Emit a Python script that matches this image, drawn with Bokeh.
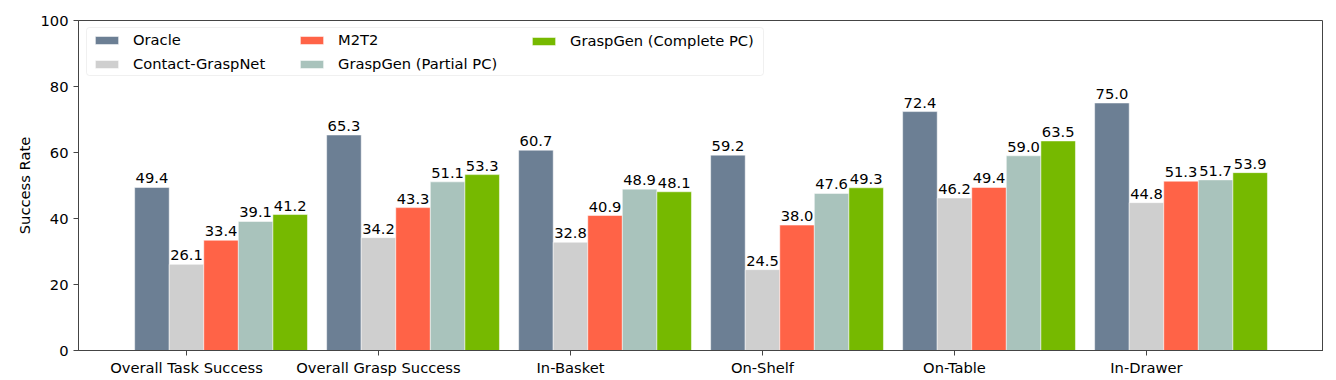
from bokeh.plotting import figure
from bokeh.models import (Range1d, FixedTicker, Legend, LegendItem, ColumnDataSource,
                          LabelSet, BoxAnnotation)
from bokeh.core.properties import value
from bokeh.embed import file_html
from bokeh.resources import INLINE

categories = ["Overall Task Success", "Overall Grasp Success", "In-Basket", "On-Shelf", "On-Table", "In-Drawer"]
methods = ["Oracle", "Contact-GraspNet", "M2T2", "GraspGen (Partial PC)", "GraspGen (Complete PC)"]
oracle = [49.4, 65.3, 60.7, 59.2, 72.4, 75.0]
contact_graspnet = [26.1, 34.2, 32.8, 24.5, 46.2, 44.8]
m2t2 = [33.4, 43.3, 40.9, 38.0, 49.4, 51.3]
graspgen_partial = [39.1, 51.1, 48.9, 47.6, 59.0, 51.7]
graspgen_complete = [41.2, 53.3, 48.1, 49.3, 63.5, 53.9]
y_ticks = [0, 20, 40, 60, 80, 100]

series = [oracle, contact_graspnet, m2t2, graspgen_partial, graspgen_complete]
colors = ["#6c7f94", "#cfcfcf", "#ff6347", "#a9c3bc", "#76b900"]
FONT = "DejaVu Sans"
FS = "14.7px"
bar_w = 0.18

p = figure(frame_width=1245, frame_height=330, output_backend="svg", toolbar_location=None,
           x_range=Range1d(-0.5625, 5.922), y_range=Range1d(0, 100),
           min_border_left=78, min_border_top=20, min_border_right=0, min_border_bottom=0)

renderers = []
for j, (vals, name, col) in enumerate(zip(series, methods, colors)):
    xs = [i + (j - 1) * bar_w for i in range(len(categories))]
    src = ColumnDataSource(dict(x=xs, top=vals, lab=[f"{v:.1f}" for v in vals]))
    r = p.vbar(x="x", top="top", width=bar_w, bottom=0, source=src,
               fill_color=col, line_color="white", line_width=0.5)
    renderers.append(r)
    p.add_layout(LabelSet(x="x", y="top", text="lab", source=src, text_align="center",
                          text_baseline="bottom", y_offset=4, text_font=value(FONT),
                          text_font_size=FS, text_color="black"))

# legend frame (screen units relative to the plot frame)
p.add_layout(BoxAnnotation(left=8, right=685, top=323, bottom=275,
                           left_units="screen", right_units="screen",
                           top_units="screen", bottom_units="screen",
                           fill_color="white", fill_alpha=0.8,
                           line_color="#cccccc", line_width=1, border_radius=3))

columns = [[0, 1], [2, 3], [4]]
col_x = [14, 219, 451]
for cols, cx in zip(columns, col_x):
    its = [LegendItem(label=methods[k], renderers=[renderers[k]]) for k in cols]
    vy = 278 if len(cols) == 2 else 301
    lg = Legend(items=its, location=(cx, vy), orientation="vertical",
                glyph_width=29, glyph_height=10, label_text_font=FONT, label_text_font_size=FS,
                label_text_color="black",
                label_height=15, spacing=7, padding=0, margin=0,
                border_line_color=None, background_fill_alpha=0,
                label_standoff=12, label_text_line_height=1.0)
    p.add_layout(lg)

p.xgrid.visible = False
p.ygrid.visible = False
p.xaxis.ticker = FixedTicker(ticks=list(range(len(categories))))
p.xaxis.major_label_overrides = {i: c for i, c in enumerate(categories)}
p.yaxis.ticker = FixedTicker(ticks=y_ticks)
p.yaxis.axis_label = "Success Rate"
for ax in (p.xaxis, p.yaxis):
    ax.major_label_text_font = FONT
    ax.major_label_text_font_size = FS
    ax.major_label_text_color = "black"
    ax.axis_label_text_font = FONT
    ax.axis_label_text_font_size = FS
    ax.axis_label_text_font_style = "normal"
    ax.axis_label_text_color = "black"
    ax.minor_tick_line_color = None
    ax.major_tick_in = 0
    ax.major_tick_out = 5
    ax.axis_line_color = "#444444"
    ax.major_tick_line_color = "#444444"
p.xaxis.major_label_standoff = 3
p.yaxis.major_label_standoff = 5
p.yaxis.axis_label_standoff = 4
p.outline_line_color = "#444444"
p.outline_line_width = 1

open("out.html", "w").write(file_html(p, INLINE))
